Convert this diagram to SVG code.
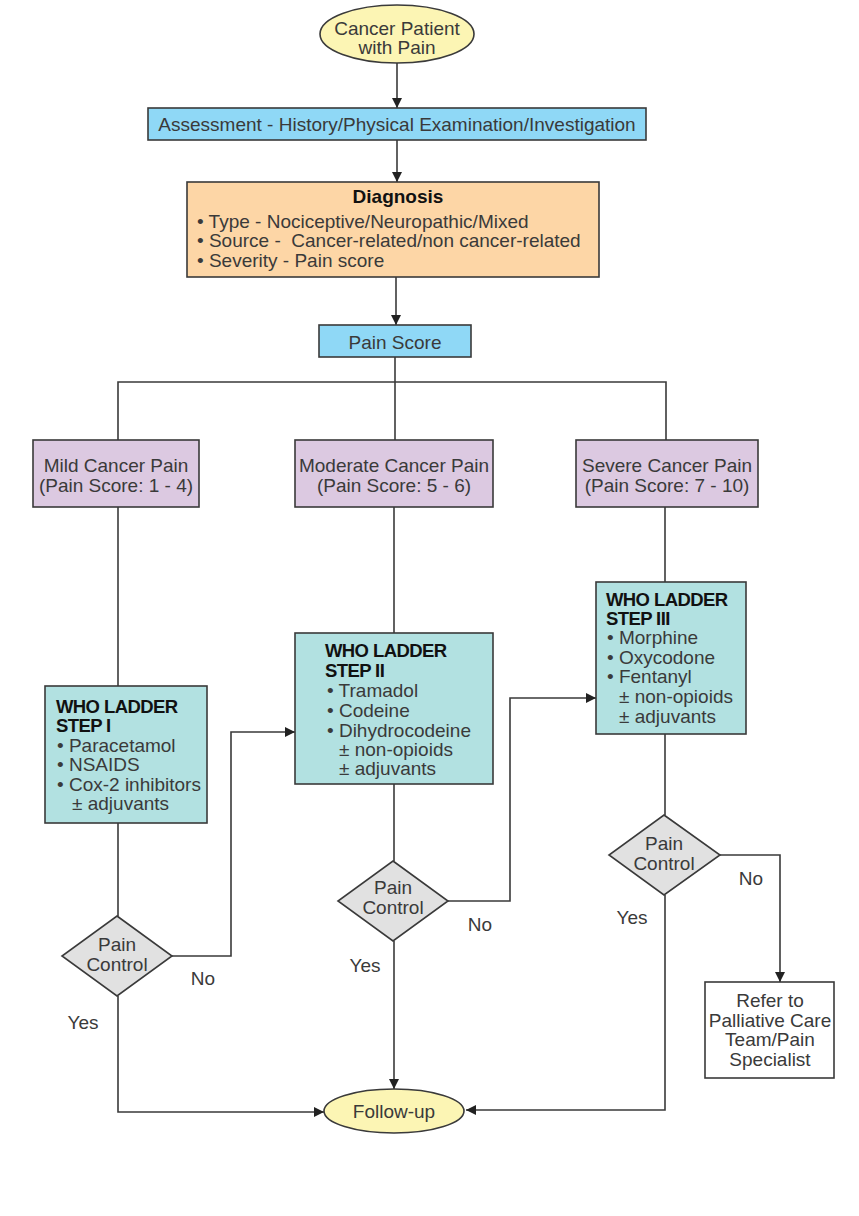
<svg xmlns="http://www.w3.org/2000/svg" width="859" height="1216" viewBox="0 0 859 1216">
<style>
text{font-family:"Liberation Sans",Arial,sans-serif;font-size:19px;fill:#3a3a3a}
.c{text-anchor:middle}
.b{font-weight:bold;fill:#111;font-size:18.5px;letter-spacing:-0.6px}
.box{stroke:#3a3a3a;stroke-width:1.6}
.ln{fill:none;stroke:#3a3a3a;stroke-width:1.6}
</style>
<defs>
<marker id="ah" viewBox="0 0 10 10" refX="10" refY="5" markerWidth="10" markerHeight="10" markerUnits="userSpaceOnUse" orient="auto">
<path d="M0,0 L10,5 L0,10 z" fill="#222"/>
</marker>
</defs>
<rect width="859" height="1216" fill="#fff"/>
<g id="connectors">
<path class="ln" d="M397,63 V108" marker-end="url(#ah)"/>
<path class="ln" d="M397,140 V182" marker-end="url(#ah)"/>
<path class="ln" d="M396,277 V325" marker-end="url(#ah)"/>
<path class="ln" d="M395,357 V440"/>
<path class="ln" d="M118,440 V382 H666 V440"/>
<path class="ln" d="M118,507 V686"/>
<path class="ln" d="M394,507 V633"/>
<path class="ln" d="M665,507 V582"/>
<path class="ln" d="M118,823 V916"/>
<path class="ln" d="M394,784 V861"/>
<path class="ln" d="M665,734 V815"/>
<path class="ln" d="M172,956 H231 V732 H295" marker-end="url(#ah)"/>
<path class="ln" d="M448,901 H510 V698 H596" marker-end="url(#ah)"/>
<path class="ln" d="M720,855 H780 V982" marker-end="url(#ah)"/>
<path class="ln" d="M118,996 V1112 H324" marker-end="url(#ah)"/>
<path class="ln" d="M394,941 V1089" marker-end="url(#ah)"/>
<path class="ln" d="M665,895 V1110 H466" marker-end="url(#ah)"/>
</g>
<g id="start">
<ellipse cx="397" cy="34" rx="77" ry="29" fill="#FCF5B4" class="box"/>
<text class="c" x="397" y="35">Cancer Patient</text>
<text class="c" x="397" y="54">with Pain</text>
</g>
<g id="assessment">
<rect x="148" y="108" width="498" height="32" fill="#8FD8F6" class="box"/>
<text class="c" x="397" y="131">Assessment - History/Physical Examination/Investigation</text>
</g>
<g id="diagnosis">
<rect x="187" y="182" width="412" height="95" fill="#FDD6A6" class="box"/>
<text class="c b" x="398" y="203" style="font-size:19px;letter-spacing:0">Diagnosis</text>
<text x="197" y="228">• Type - Nociceptive/Neuropathic/Mixed</text>
<text x="197" y="247" style="white-space:pre">• Source -  Cancer-related/non cancer-related</text>
<text x="197" y="267">• Severity - Pain score</text>
</g>
<g id="painscore">
<rect x="319" y="325" width="152" height="32" fill="#8FD8F6" class="box"/>
<text class="c" x="395" y="349">Pain Score</text>
</g>
<g id="mild">
<rect x="33" y="440" width="166" height="67" fill="#DCC9E1" class="box"/>
<text class="c" x="116" y="472">Mild Cancer Pain</text>
<text class="c" x="116" y="492">(Pain Score: 1 - 4)</text>
</g>
<g id="moderate">
<rect x="295" y="440" width="198" height="67" fill="#DCC9E1" class="box"/>
<text class="c" x="394" y="472">Moderate Cancer Pain</text>
<text class="c" x="394" y="492">(Pain Score: 5 - 6)</text>
</g>
<g id="severe">
<rect x="576" y="440" width="182" height="67" fill="#DCC9E1" class="box"/>
<text class="c" x="667" y="472">Severe Cancer Pain</text>
<text class="c" x="667" y="492">(Pain Score: 7 - 10)</text>
</g>
<g id="step1">
<rect x="45" y="686" width="162" height="137" fill="#B2E1E1" class="box"/>
<text class="b" x="56" y="713">WHO LADDER</text>
<text class="b" x="56" y="732">STEP I</text>
<text x="57" y="752">• Paracetamol</text>
<text x="57" y="771">• NSAIDS</text>
<text x="57" y="791">• Cox-2 inhibitors</text>
<text x="72" y="810">± adjuvants</text>
</g>
<g id="step2">
<rect x="295" y="633" width="198" height="151" fill="#B2E1E1" class="box"/>
<text class="b" x="325" y="657">WHO LADDER</text>
<text class="b" x="325" y="677">STEP II</text>
<text x="327" y="697">• Tramadol</text>
<text x="327" y="717">• Codeine</text>
<text x="327" y="737">• Dihydrocodeine</text>
<text x="339" y="756">± non-opioids</text>
<text x="339" y="775">± adjuvants</text>
</g>
<g id="step3">
<rect x="596" y="582" width="150" height="152" fill="#B2E1E1" class="box"/>
<text class="b" x="606" y="606">WHO LADDER</text>
<text class="b" x="606" y="625">STEP III</text>
<text x="607" y="644">• Morphine</text>
<text x="607" y="664">• Oxycodone</text>
<text x="607" y="683">• Fentanyl</text>
<text x="619" y="703">± non-opioids</text>
<text x="619" y="723">± adjuvants</text>
</g>
<g id="decision1">
<polygon points="117,916 172,956 117,996 62,956" fill="#E1E1E1" class="box"/>
<text class="c" x="117" y="951">Pain</text>
<text class="c" x="117" y="971">Control</text>
</g>
<g id="decision2">
<polygon points="393,861 448,901 393,941 338,901" fill="#E1E1E1" class="box"/>
<text class="c" x="393" y="894">Pain</text>
<text class="c" x="393" y="914">Control</text>
</g>
<g id="decision3">
<polygon points="664,815 720,855 664,895 609,855" fill="#E1E1E1" class="box"/>
<text class="c" x="664" y="850">Pain</text>
<text class="c" x="664" y="870">Control</text>
</g>
<g id="labels">
<text class="c" x="203" y="985">No</text>
<text class="c" x="83" y="1029">Yes</text>
<text class="c" x="480" y="931">No</text>
<text class="c" x="365" y="972">Yes</text>
<text class="c" x="751" y="885">No</text>
<text class="c" x="632" y="924">Yes</text>
</g>
<g id="refer">
<rect x="705" y="982" width="129" height="96" fill="#fff" class="box"/>
<text class="c" x="770" y="1007">Refer to</text>
<text class="c" x="770" y="1027">Palliative Care</text>
<text class="c" x="770" y="1046">Team/Pain</text>
<text class="c" x="770" y="1066">Specialist</text>
</g>
<g id="followup">
<ellipse cx="394" cy="1111" rx="70" ry="22" fill="#FCF5B4" class="box"/>
<text class="c" x="394" y="1118">Follow-up</text>
</g>
</svg>
